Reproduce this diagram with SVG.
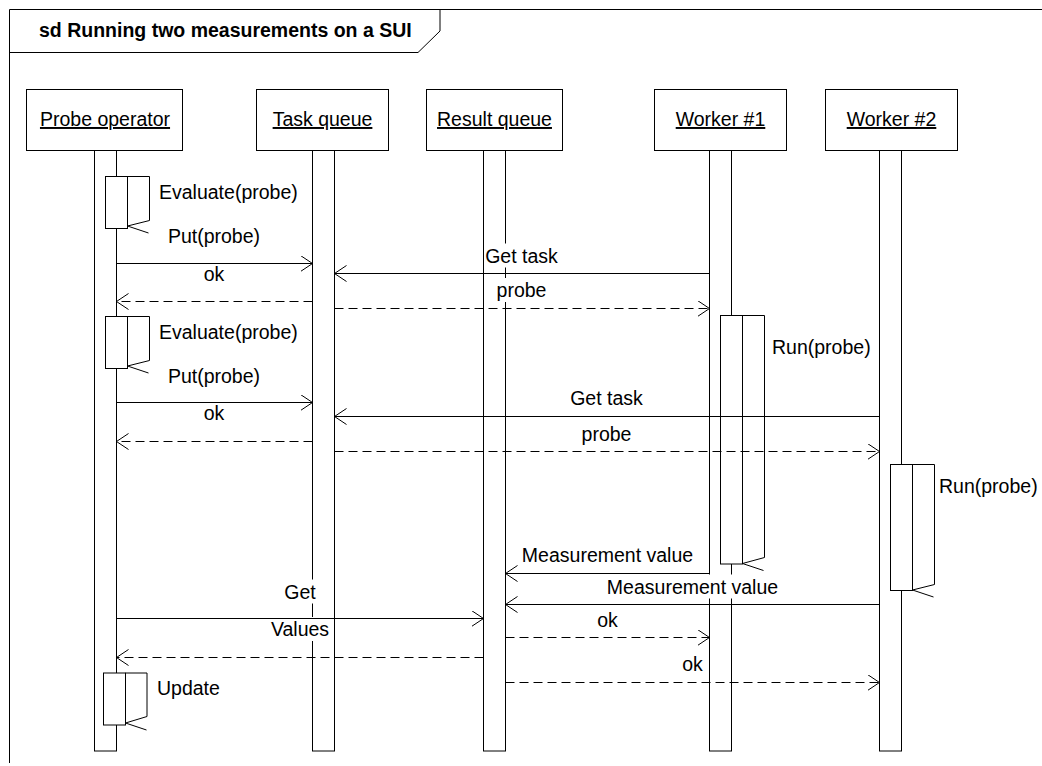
<svg xmlns="http://www.w3.org/2000/svg" width="1042" height="766" viewBox="0 0 1042 766">
  <style>
    .frame { fill: none; stroke: #000; stroke-width: 1; }
    .head { fill: #fff; stroke: #000; stroke-width: 1; }
    .bar { fill: #fff; stroke: #000; stroke-width: 1; }
    .act { fill: #fff; stroke: #000; stroke-width: 1; }
    .loop { fill: none; stroke: #000; stroke-width: 1; }
    .call { fill: none; stroke: #000; stroke-width: 1; marker-end: url(#open); }
    .reply { fill: none; stroke: #000; stroke-width: 1; stroke-dasharray: 9 5; marker-end: url(#open); }
    .bg { fill: #fff; stroke: none; }
    text { font-family: "Liberation Sans", Arial, sans-serif; font-size: 19.5px; fill: #000; }
    .title { font-weight: bold; }
    .name { text-anchor: middle; text-decoration: underline; }
    .lbl { text-anchor: middle; }
  </style>
  <defs>
    <marker id="open" markerUnits="userSpaceOnUse" markerWidth="14" markerHeight="18" refX="12" refY="8" orient="auto">
      <path d="M0,0 L12,8 L0,16" fill="none" stroke="#000" stroke-width="1"/>
    </marker>
  </defs>

  <!-- sequence diagram frame with its name tab -->
  <g id="frame">
    <path class="frame" d="M9.5,763 V9.5 H1042"/>
    <path class="frame" d="M9.5,52.5 H418 L440,31 V9.5"/>
    <text class="title" x="39" y="37">sd Running two measurements on a SUI</text>
  </g>

  <!-- lifelines -->
  <g id="probe-operator">
    <rect class="head" x="26.5" y="89.5" width="156" height="61"/>
    <text class="name" x="105" y="126">Probe operator</text>
    <rect class="bar" x="94.5" y="150.5" width="22" height="600.5"/>
    <rect class="act" x="105.5" y="176.5" width="22" height="52"/>
    <rect class="act" x="105.5" y="316.5" width="22" height="52"/>
    <rect class="act" x="103.5" y="673" width="22" height="52"/>
  </g>

  <g id="task-queue">
    <rect class="head" x="256.5" y="89.5" width="132" height="61"/>
    <text class="name" x="322.5" y="126">Task queue</text>
    <rect class="bar" x="312.5" y="150.5" width="22" height="600.5"/>
  </g>

  <g id="result-queue">
    <rect class="head" x="426.5" y="89.5" width="136" height="61"/>
    <text class="name" x="494.5" y="126">Result queue</text>
    <rect class="bar" x="483.5" y="150.5" width="22" height="600.5"/>
  </g>

  <g id="worker-1">
    <rect class="head" x="654.5" y="89.5" width="132" height="61"/>
    <text class="name" x="720.5" y="126">Worker #1</text>
    <rect class="bar" x="709.5" y="150.5" width="22" height="600.5"/>
    <rect class="act" x="720.5" y="315.5" width="22" height="248.5"/>
  </g>

  <g id="worker-2">
    <rect class="head" x="825.5" y="89.5" width="132" height="61"/>
    <text class="name" x="891.5" y="126">Worker #2</text>
    <rect class="bar" x="879.5" y="150.5" width="22" height="600.5"/>
    <rect class="act" x="890.5" y="464.5" width="22" height="126"/>
  </g>

  <!-- messages -->
  <g id="connectors">
    <!-- label backgrounds -->
    <rect class="bg" x="484" y="243.5" width="75" height="24"/>
    <rect class="bg" x="495" y="278" width="53" height="24"/>
    <rect class="bg" x="606" y="574.5" width="174" height="24"/>
    <rect class="bg" x="283" y="579.5" width="35" height="24"/>
    <rect class="bg" x="269" y="617" width="62" height="24"/>

    <!-- self messages -->
    <path class="loop" d="M127.5,176.5 H149.5 V220.5 L127.5,226 L148.5,233"/>
    <path class="loop" d="M127.5,316.5 H149.5 V360.5 L127.5,366 L148.5,373"/>
    <path class="loop" d="M742.5,315.5 H764.5 V557.5 L742.5,563.5 L763.5,570.5"/>
    <path class="loop" d="M912.5,464.5 H934.5 V584.5 L912.5,590 L933.5,597"/>
    <path class="loop" d="M125.5,673 H147 V716.5 L125.5,723 L146.5,730"/>

    <!-- calls and replies -->
    <line class="call" x1="116.5" y1="263.5" x2="312.5" y2="263.5"/>
    <line class="call" x1="709.5" y1="273.5" x2="334.5" y2="273.5"/>
    <line class="reply" x1="312.5" y1="301.5" x2="116.5" y2="301.5"/>
    <line class="reply" x1="334.5" y1="308.5" x2="709.5" y2="308.5"/>
    <line class="call" x1="116.5" y1="402.5" x2="312.5" y2="402.5"/>
    <line class="call" x1="879.5" y1="416.5" x2="334.5" y2="416.5"/>
    <line class="reply" x1="312.5" y1="441.5" x2="116.5" y2="441.5"/>
    <line class="reply" x1="334.5" y1="451.5" x2="879.5" y2="451.5"/>
    <line class="call" x1="709.5" y1="573.5" x2="505.5" y2="573.5"/>
    <line class="call" x1="879.5" y1="604.5" x2="505.5" y2="604.5"/>
    <line class="call" x1="116.5" y1="618.5" x2="483.5" y2="618.5"/>
    <line class="reply" x1="505.5" y1="637.5" x2="709.5" y2="637.5"/>
    <line class="reply" x1="483.5" y1="657.5" x2="116.5" y2="657.5"/>
    <line class="reply" x1="505.5" y1="682.5" x2="879.5" y2="682.5"/>

    <!-- labels -->
    <text x="159" y="198.5">Evaluate(probe)</text>
    <text x="159" y="338.5">Evaluate(probe)</text>
    <text x="772" y="353.5">Run(probe)</text>
    <text x="939" y="492.5">Run(probe)</text>
    <text x="157" y="695">Update</text>
    <text class="lbl" x="214" y="243">Put(probe)</text>
    <text class="lbl" x="521.5" y="262.5">Get task</text>
    <text class="lbl" x="214" y="281">ok</text>
    <text class="lbl" x="521.5" y="297">probe</text>
    <text class="lbl" x="214" y="383">Put(probe)</text>
    <text class="lbl" x="606.5" y="405">Get task</text>
    <text class="lbl" x="214" y="420">ok</text>
    <text class="lbl" x="606.5" y="440.5">probe</text>
    <text class="lbl" x="607.5" y="562">Measurement value</text>
    <text class="lbl" x="692.5" y="593.5">Measurement value</text>
    <text class="lbl" x="300" y="598.5">Get</text>
    <text class="lbl" x="607.5" y="626.5">ok</text>
    <text class="lbl" x="300" y="636">Values</text>
    <text class="lbl" x="692.5" y="671">ok</text>
  </g>
</svg>
